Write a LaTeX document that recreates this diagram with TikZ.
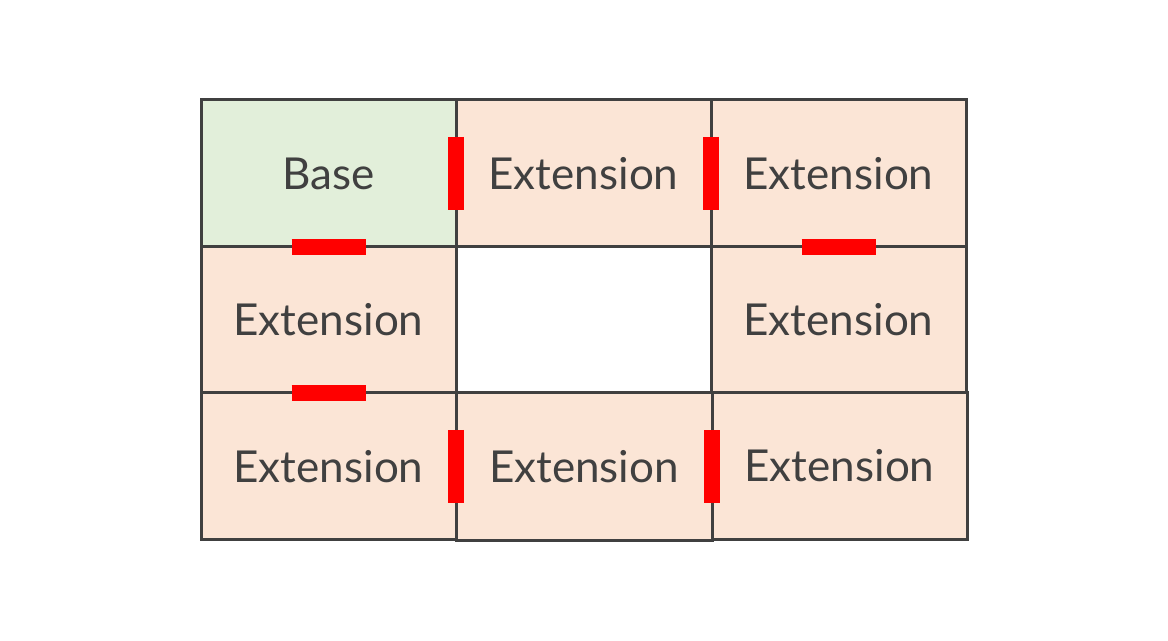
\documentclass[tikz,border=0pt]{standalone}
\usepackage{fontspec}
\setmainfont{Lato}
\usetikzlibrary{calc}
\definecolor{basefill}{HTML}{E2EFDA}
\definecolor{extfill}{HTML}{FBE5D6}
\definecolor{gridline}{HTML}{404040}
\tikzset{
  cell/.style={draw=gridline, line width=1.5pt, minimum width=127.5pt, minimum height=73.5pt,
    inner sep=0pt, outer sep=0pt, text=gridline, font=\fontsize{22}{26}\selectfont},
  base/.style={cell, fill=basefill},
  ext/.style={cell, fill=extfill},
  joint/.style={draw=red, line width=8pt}
}
\begin{document}
\begin{tikzpicture}[x=0.5pt,y=-0.5pt]
  \useasboundingbox[fill=white] (0,0) rectangle (1168,641);
  \draw
    (328.5,173.5) node[base] (b){Base}
    (583.5,173.5) node[ext] (e1){Extension}
    (838.5,173.5) node[ext] (e2){Extension}
    (328.5,320) node[ext] (e3){Extension}
    (838.5,320) node[ext] (e4){Extension}
    (328.5,466.5) node[ext] (e5){Extension}
    (584,467) node[ext, minimum width=128pt, minimum height=74pt] (e6){Extension}
    (839.5,466) node[ext] (e7){Extension};
  \begin{scope}[joint]
    \draw ($(b.east)+(0,-36.5)$) -- ($(b.east)+(0,36.5)$);
    \draw ($(e1.east)+(0,-36.5)$) -- ($(e1.east)+(0,36.5)$);
    \draw ($(b.south)+(-37,0)$) -- ($(b.south)+(37,0)$);
    \draw ($(e2.south)+(-37,0)$) -- ($(e2.south)+(37,0)$);
    \draw ($(e3.south)+(-37,0)$) -- ($(e3.south)+(37,0)$);
    \draw ($(e5.east)+(0,-36.5)$) -- ($(e5.east)+(0,36.5)$);
    \draw ($(e6.east)+(0,-36.5)$) -- ($(e6.east)+(0,36.5)$);
  \end{scope}
\end{tikzpicture}
\end{document}
